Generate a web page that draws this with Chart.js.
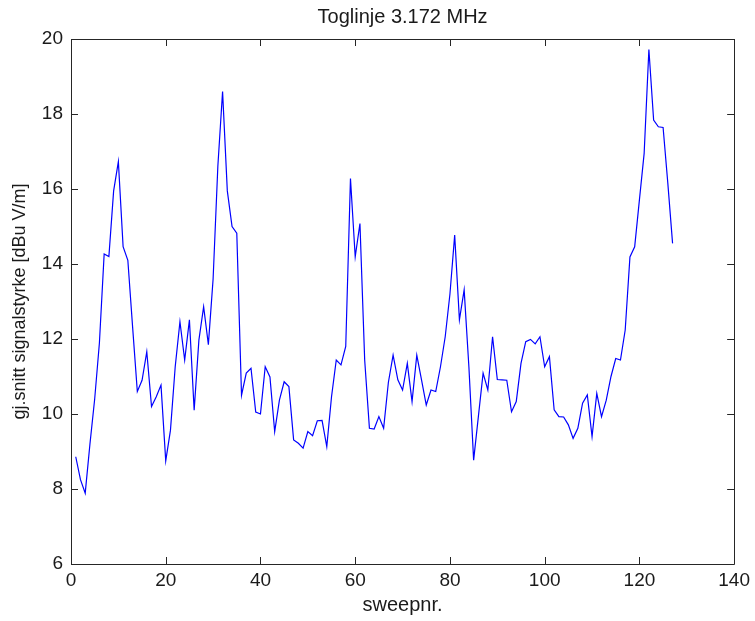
<!DOCTYPE html>
<html>
<head>
<meta charset="utf-8">
<script src="https://cdn.jsdelivr.net/npm/chart.js@4/dist/chart.umd.min.js"></script>
<style>
html,body{margin:0;padding:0;background:#fff;}
#wrap{width:755px;height:621px;position:relative;}
</style>
</head>
<body>
<div id="wrap"><canvas id="c" width="755" height="621"></canvas></div>
<script>
const chartTitle = "Toglinje 3.172 MHz";
const xTitle = "sweepnr.";
const yTitle = "gj.snitt signalstyrke [dBu V/m]";

const sweepnr = [
  1,2,3,4,5,6,7,8,9,10,11,12,13,14,15,16,17,18,19,20,
  21,22,23,24,25,26,27,28,29,30,31,32,33,34,35,36,37,38,39,40,
  41,42,43,44,45,46,47,48,49,50,51,52,53,54,55,56,57,58,59,60,
  61,62,63,64,65,66,67,68,69,70,71,72,73,74,75,76,77,78,79,80,
  81,82,83,84,85,86,87,88,89,90,91,92,93,94,95,96,97,98,99,100,
  101,102,103,104,105,106,107,108,109,110,111,112,113,114,115,116,117,118,119,120,
  121,122,123,124,125,126,127
];
const signal = [
  8.86,8.25,7.89,9.2,10.4,11.9,14.27,14.2,15.95,16.73,
  14.46,14.1,12.33,10.6,10.9,11.66,10.2,10.46,10.77,8.75,
  9.57,11.26,12.46,11.44,12.51,10.1,11.97,12.86,11.85,13.6,
  16.6,18.6,15.95,15.0,14.82,10.5,11.09,11.22,10.05,10.0,
  11.26,10.99,9.53,10.37,10.86,10.73,9.31,9.22,9.09,9.53,
  9.42,9.82,9.83,9.13,10.46,11.44,11.31,11.8,16.28,14.19,
  15.08,11.44,9.62,9.6,9.93,9.62,10.84,11.57,10.91,10.64,
  11.35,10.33,11.57,10.91,10.24,10.64,10.6,11.26,12.06,13.2,
  14.77,12.51,13.31,11.26,8.77,9.93,11.09,10.64,12.06,10.92,
  10.91,10.9,10.06,10.33,11.35,11.93,11.99,11.87,12.06,11.26,
  11.53,10.11,9.93,9.92,9.71,9.35,9.62,10.29,10.51,9.4,
  10.55,9.93,10.37,11.0,11.48,11.44,12.24,14.19,14.46,15.71,
  16.95,19.72,17.84,17.66,17.64,16.15,14.55
];
const xTicks = [0,20,40,60,80,100,120,140];
const yTicks = [6,8,10,12,14,16,18,20];

const points = sweepnr.map((s, i) => ({x: s, y: signal[i]}));
const axisColor = '#262626';
const textColor = '#1a1a1a';
const FONT = "'Liberation Sans', Arial, sans-serif";

const whiteBg = {
  id: 'whiteBg',
  beforeDraw(chart) {
    const ctx = chart.ctx;
    ctx.save();
    ctx.fillStyle = '#fff';
    ctx.fillRect(0, 0, chart.width, chart.height);
    ctx.restore();
  }
};

const boxTicks = {
  id: 'boxTicks',
  afterDraw(chart) {
    const {ctx, chartArea: a, scales: {x, y}} = chart;
    const L = 7;
    ctx.save();
    ctx.strokeStyle = axisColor;
    ctx.lineWidth = 1;
    ctx.beginPath();
    ctx.rect(Math.round(a.left) + 0.5, Math.round(a.top) + 0.5,
             Math.round(a.right - a.left), Math.round(a.bottom - a.top));
    ctx.stroke();
    ctx.beginPath();
    xTicks.forEach(v => {
      const px = Math.round(x.getPixelForValue(v)) + 0.5;
      ctx.moveTo(px, a.bottom); ctx.lineTo(px, a.bottom - L);
      ctx.moveTo(px, a.top); ctx.lineTo(px, a.top + L);
    });
    yTicks.forEach(v => {
      const py = Math.round(y.getPixelForValue(v)) + 0.5;
      ctx.moveTo(a.left, py); ctx.lineTo(a.left + L, py);
      ctx.moveTo(a.right, py); ctx.lineTo(a.right - L, py);
    });
    ctx.stroke();
    ctx.restore();
  }
};

new Chart(document.getElementById('c'), {
  type: 'line',
  data: {
    datasets: [{
      data: points,
      borderColor: '#0000ff',
      borderWidth: 1.2,
      pointRadius: 0,
      fill: false,
      tension: 0
    }]
  },
  options: {
    responsive: false,
    animation: false,
    devicePixelRatio: 1,
    layout: {padding: {left: 0, right: 19, top: 0, bottom: 0}},
    plugins: {
      legend: {display: false},
      tooltip: {enabled: false},
      title: {
        display: true,
        fullSize: false,
        text: chartTitle,
        color: textColor,
        font: {family: FONT, size: 20, weight: 'normal', lineHeight: 1.2},
        padding: {top: 5, bottom: 10}
      }
    },
    scales: {
      x: {
        type: 'linear',
        min: 0, max: 140,
        afterFit(s) { s.height = 57; },
        afterBuildTicks(s) { s.ticks = xTicks.map(v => ({value: v})); },
        grid: {display: false, drawTicks: false},
        border: {display: false},
        ticks: {color: textColor, font: {family: FONT, size: 19}, padding: 5, maxRotation: 0, autoSkip: false},
        title: {display: true, text: xTitle, color: textColor,
                font: {family: FONT, size: 20, lineHeight: 1.2}, padding: {top: 0, bottom: 4}}
      },
      y: {
        type: 'linear',
        min: 6, max: 20,
        afterFit(s) { s.width = 71; },
        afterBuildTicks(s) { s.ticks = yTicks.map(v => ({value: v})); },
        grid: {display: false, drawTicks: false},
        border: {display: false},
        ticks: {color: textColor, font: {family: FONT, size: 19}, padding: 8, autoSkip: false},
        title: {display: true, text: yTitle, color: textColor,
                font: {family: FONT, size: 18, lineHeight: 1.2}, padding: {top: 9, bottom: 0}}
      }
    }
  },
  plugins: [whiteBg, boxTicks]
});
</script>
</body>
</html>
